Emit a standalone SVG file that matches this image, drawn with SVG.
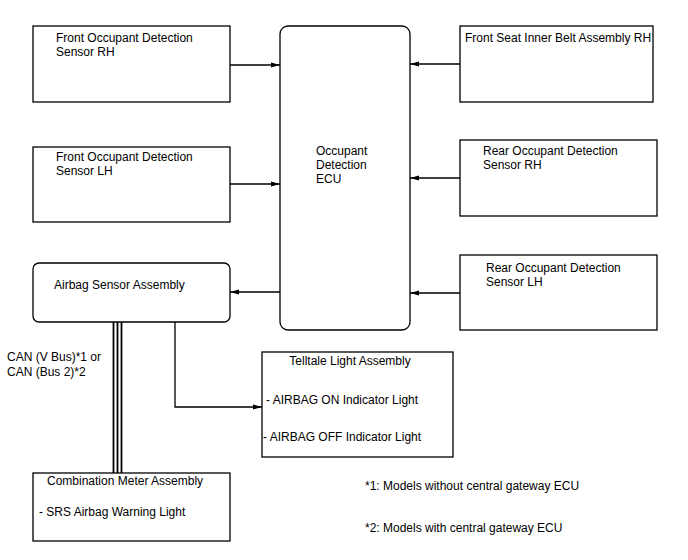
<svg xmlns="http://www.w3.org/2000/svg" width="688" height="560" viewBox="0 0 688 560">
<style>
.b{fill:#fff;stroke:#000;stroke-width:1.3}
.l{fill:none;stroke:#000;stroke-width:1.3}
.c{stroke:#000;stroke-width:1.8}
text{font-family:"Liberation Sans",Arial,sans-serif;font-size:12px;fill:#000}
</style>
<defs>
<marker id="a" markerWidth="10" markerHeight="6" refX="9" refY="3" orient="auto" markerUnits="userSpaceOnUse">
<path d="M0,0.5 L9,3 L0,5.5 Z" fill="#000"/>
</marker>
</defs>
<rect width="688" height="560" fill="#fff"/>
<g id="front-rh"><rect class="b" x="33" y="26" width="197" height="76"/><text x="56" y="42">Front Occupant Detection</text><text x="56" y="56">Sensor RH</text></g>
<g id="front-lh"><rect class="b" x="33" y="147" width="197" height="75"/><text x="56" y="161">Front Occupant Detection</text><text x="56" y="175">Sensor LH</text></g>
<g id="ecu"><rect class="b" x="280" y="26" width="130" height="304" rx="8"/><text x="316" y="155">Occupant</text><text x="316" y="169">Detection</text><text x="316" y="183">ECU</text></g>
<g id="belt"><rect class="b" x="460" y="26" width="193" height="76"/><text x="465" y="42">Front Seat Inner Belt Assembly RH</text></g>
<g id="rear-rh"><rect class="b" x="460" y="140" width="197" height="76"/><text x="483" y="155">Rear Occupant Detection</text><text x="483" y="169">Sensor RH</text></g>
<g id="rear-lh"><rect class="b" x="460" y="255" width="197" height="75"/><text x="486" y="272">Rear Occupant Detection</text><text x="486" y="286">Sensor LH</text></g>
<g id="airbag"><rect class="b" x="33" y="263" width="197" height="59" rx="6"/><text x="54" y="289">Airbag Sensor Assembly</text></g>
<g id="telltale"><rect class="b" x="262" y="352" width="191" height="105"/><text x="350" y="365" text-anchor="middle">Telltale Light Assembly</text><text x="266" y="404">- AIRBAG ON Indicator Light</text><text x="263" y="441">- AIRBAG OFF Indicator Light</text></g>
<g id="meter"><rect class="b" x="33" y="473" width="197" height="68"/><text x="47" y="485">Combination Meter Assembly</text><text x="39" y="516">- SRS Airbag Warning Light</text></g>
<g id="connectors">
<line class="l" x1="230" y1="65" x2="280" y2="65" marker-end="url(#a)"/>
<line class="l" x1="230" y1="184" x2="280" y2="184" marker-end="url(#a)"/>
<line class="l" x1="460" y1="64" x2="410" y2="64" marker-end="url(#a)"/>
<line class="l" x1="460" y1="178" x2="410" y2="178" marker-end="url(#a)"/>
<line class="l" x1="460" y1="293" x2="410" y2="293" marker-end="url(#a)"/>
<line class="l" x1="280" y1="292" x2="230" y2="292" marker-end="url(#a)"/>
<polyline class="l" points="175,322 175,407 262,407" marker-end="url(#a)"/>
<line class="c" x1="113.5" y1="322" x2="113.5" y2="473"/>
<line class="c" x1="117.5" y1="322" x2="117.5" y2="473"/>
<line class="c" x1="121.5" y1="322" x2="121.5" y2="473"/>
</g>
<g id="labels">
<text x="7" y="361">CAN (V Bus)*1 or</text>
<text x="7" y="376">CAN (Bus 2)*2</text>
<text x="365" y="490">*1: Models without central gateway ECU</text>
<text x="365" y="532">*2: Models with central gateway ECU</text>
</g>
</svg>
